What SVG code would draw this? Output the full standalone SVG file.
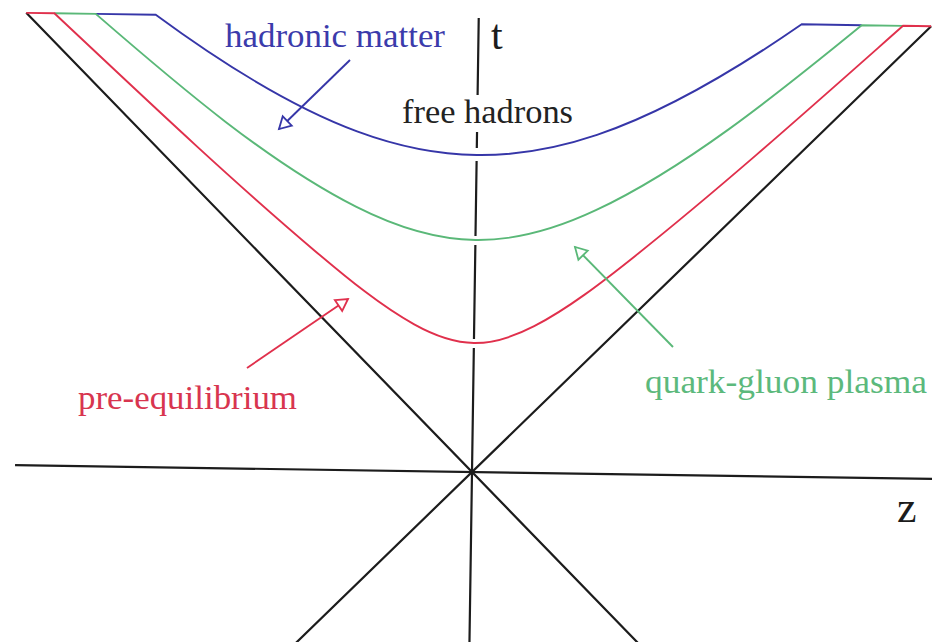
<svg xmlns="http://www.w3.org/2000/svg" width="932" height="642" viewBox="0 0 932 642">
<style>
.ax{fill:none;stroke:#1c1c1c;stroke-width:2.2}
.cb{fill:none;stroke:#3636a8;stroke-width:1.9}
.cg{fill:none;stroke:#5ab878;stroke-width:1.9}
.cr{fill:none;stroke:#e0304c;stroke-width:1.9}
.lbl{font-family:"Liberation Serif","Times New Roman",serif;font-size:34px}
</style>
<defs>
<marker id="hb" markerUnits="userSpaceOnUse" markerWidth="16" markerHeight="16" refX="12" refY="7" orient="auto" overflow="visible"><path d="M0.5,0.5 L12,7 L0.5,13.5 Z" fill="#fff" stroke="#3636a8" stroke-width="1.8"/></marker>
<marker id="hr" markerUnits="userSpaceOnUse" markerWidth="16" markerHeight="16" refX="12" refY="7" orient="auto" overflow="visible"><path d="M0.5,0.5 L12,7 L0.5,13.5 Z" fill="#fff" stroke="#e0304c" stroke-width="1.8"/></marker>
<marker id="hg" markerUnits="userSpaceOnUse" markerWidth="16" markerHeight="16" refX="12" refY="7" orient="auto" overflow="visible"><path d="M0.5,0.5 L12,7 L0.5,13.5 Z" fill="#fff" stroke="#5ab878" stroke-width="1.8"/></marker>
</defs>
<rect width="932" height="642" fill="#fff"/>
<g id="axes" transform="rotate(0.85 472 472)">
<path class="ax" d="M15,472 H950"/>
<path class="ax" d="M472,18 V95 M472,132 V148 M472,161 V236 M472,245 V339 M472,348 V680"/>
<path class="ax" d="M19.5,19.5 L690,690 M924.5,19.5 L254,690"/>
</g>
<g id="hadronic-boundary" transform="rotate(0.85 472 472)">
<path class="cb" d="M89,19.5 L149,19.43 C216.67,67.73 284.33,109.1 352,133.05 C392,147.21 432,155 472,155 C512,155 552,147.21 592,133.05 C659.67,109.1 727.33,67.73 795,19.43 L855,19.5"/>
</g>
<g id="qgp-boundary" transform="rotate(0.85 472 472)">
<path class="cg" d="M47.6,19.5 L89,19.53 C176.67,93.36 264.33,165.57 352,208.42 C392,227.97 432,240 472,240 C512,240 552,227.97 592,208.42 C679.67,165.57 767.33,93.36 855,19.53 L896.4,19.5"/>
</g>
<g id="preeq-boundary" transform="rotate(0.85 472 472)">
<path class="cr" d="M19.5,19.5 L47.6,19.48 C135.73,99.85 223.87,181.14 312,253.53 C345.33,280.91 378.67,307.4 412,325.28 C432,336.01 452,343 472,343 C492,343 512,336.01 532,325.28 C565.33,307.4 598.67,280.91 632,253.53 C720.13,181.14 808.27,99.85 896.4,19.48 L924.5,19.5"/>
</g>
<g id="connectors">
<path class="cb" d="M350,60 L279,129" marker-end="url(#hb)"/>
<path class="cr" d="M247,368 L348,299" marker-end="url(#hr)"/>
<path class="cg" d="M673,347 L575,247" marker-end="url(#hg)"/>
</g>
<g id="label-hadronic"><text class="lbl" x="225" y="47" fill="#3b3bab" textLength="220" lengthAdjust="spacingAndGlyphs">hadronic matter</text></g>
<g id="label-free"><text class="lbl" x="402" y="123" fill="#222" textLength="171" lengthAdjust="spacingAndGlyphs">free hadrons</text></g>
<g id="label-preeq"><text class="lbl" x="78" y="409" fill="#d8354f" textLength="219" lengthAdjust="spacingAndGlyphs">pre-equilibrium</text></g>
<g id="label-qgp"><text class="lbl" x="645" y="393" fill="#5cb97c" textLength="282" lengthAdjust="spacingAndGlyphs">quark-gluon plasma</text></g>
<g id="label-t"><text class="lbl" x="491" y="49" fill="#1c1c1c" style="font-size:42px">t</text></g>
<g id="label-z"><text class="lbl" x="897" y="522" fill="#1c1c1c" style="font-size:44px">z</text></g>
</svg>
